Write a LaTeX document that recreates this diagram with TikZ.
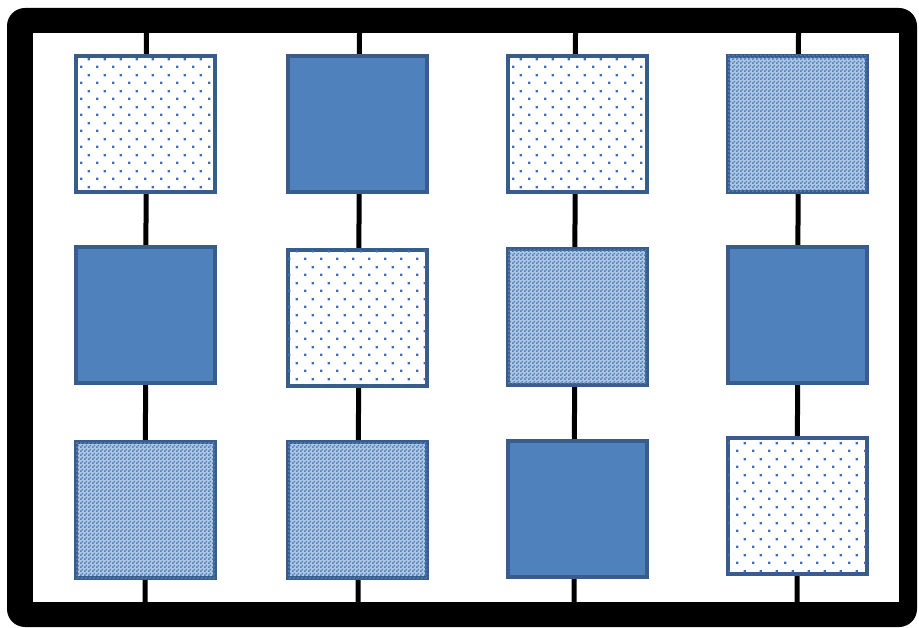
\documentclass[tikz,border=0pt]{standalone}
\usetikzlibrary{patterns}
\definecolor{fillblue}{HTML}{4F81BD}
\definecolor{edgeblue}{HTML}{385D8A}
\definecolor{dotblue}{HTML}{3A6BC8}
\pgfdeclarepatternformonly{sparsedots}{\pgfpointorigin}{\pgfpoint{16pt}{16pt}}{\pgfpoint{16pt}{16pt}}{%
  \pgfpathrectangle{\pgfpoint{0pt}{0pt}}{\pgfpoint{2.4pt}{2.4pt}}%
  \pgfpathrectangle{\pgfpoint{8pt}{8pt}}{\pgfpoint{2.4pt}{2.4pt}}%
  \pgfusepath{fill}}
\pgfdeclarepatternformonly{finechecker}{\pgfpointorigin}{\pgfpoint{4pt}{4pt}}{\pgfpoint{4pt}{4pt}}{%
  \pgfpathrectangle{\pgfpoint{0pt}{0pt}}{\pgfpoint{2pt}{2pt}}%
  \pgfpathrectangle{\pgfpoint{2pt}{2pt}}{\pgfpoint{2pt}{2pt}}%
  \pgfusepath{fill}}
\tikzset{
  cell/.style={draw=edgeblue, line width=4pt, minimum width=139pt, minimum height=136pt, inner sep=0pt, outer sep=0pt},
  solidcell/.style={cell, fill=fillblue},
  dotcell/.style={cell, fill=white, postaction={pattern=sparsedots, pattern color=dotblue}},
  checkcell/.style={cell, fill=fillblue!45, postaction={pattern=finechecker, pattern color=fillblue}},
  rail/.style={line width=5pt, black},
}
\begin{document}
\begin{tikzpicture}[x=1pt,y=-1pt]
\useasboundingbox (0,0) rectangle (919,628);
% frame
\fill[black, rounded corners=18pt] (7,8) rectangle (917,627);
\fill[white] (33,33) rectangle (899,602);
% rail end points
\coordinate (t1) at (146.5,33); \coordinate (b1) at (145,602);
\coordinate (t2) at (359.5,33); \coordinate (b2) at (358,602);
\coordinate (t3) at (575.5,33); \coordinate (b3) at (574,602);
\coordinate (t4) at (798.5,33); \coordinate (b4) at (797,602);
\draw[rail] (t1) -- (b1);
\draw[rail] (t2) -- (b2);
\draw[rail] (t3) -- (b3);
\draw[rail] (t4) -- (b4);
% row 1
\node[dotcell]   (a1) at (145.5,124) {};
\node[solidcell] (a2) at (357.5,124) {};
\node[dotcell]   (a3) at (577,124) {};
\node[checkcell] (a4) at (797,124) {};
% row 2
\node[solidcell] (m1) at (145.5,315) {};
\node[dotcell]   (m2) at (357.5,318) {};
\node[checkcell] (m3) at (577,317) {};
\node[solidcell] (m4) at (797,315) {};
% row 3
\node[checkcell] (z1) at (145.5,510) {};
\node[checkcell] (z2) at (357.5,510) {};
\node[solidcell] (z3) at (577,509) {};
\node[dotcell]   (z4) at (797,506) {};
\end{tikzpicture}
\end{document}
